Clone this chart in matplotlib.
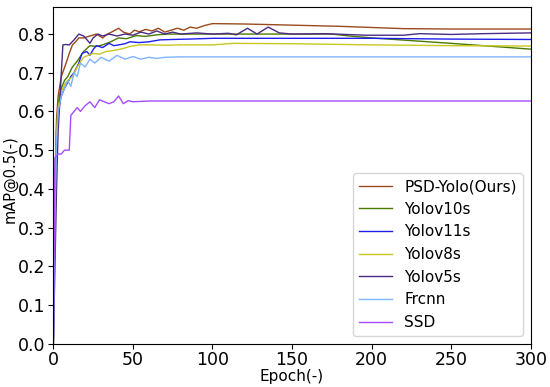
import numpy as np
import matplotlib
matplotlib.use("Agg")
import matplotlib.pyplot as plt

# values (epoch, mAP@0.5)
psd_ep = [0, 1, 2, 3, 5, 8, 10, 12, 14, 16, 19, 23, 27, 31, 34, 37, 41, 44, 48, 51, 54, 58, 62, 66, 70, 74, 78, 82, 86, 90, 95, 100, 120, 150, 180, 200, 220, 250, 300]
psd_map = [0.0, 0.42, 0.58, 0.64, 0.69, 0.725, 0.75, 0.772, 0.78, 0.79, 0.79, 0.795, 0.80, 0.79, 0.80, 0.806, 0.815, 0.805, 0.80, 0.81, 0.806, 0.812, 0.808, 0.815, 0.805, 0.81, 0.815, 0.81, 0.818, 0.815, 0.822, 0.827, 0.826, 0.823, 0.82, 0.817, 0.814, 0.813, 0.813]

v10_ep = [0, 1, 2, 3, 5, 7, 9, 12, 15, 19, 23, 27, 31, 36, 41, 46, 52, 58, 65, 72, 80, 90, 100, 130, 175, 186, 200, 250, 270, 300]
v10_map = [0.0, 0.38, 0.55, 0.62, 0.66, 0.68, 0.69, 0.715, 0.73, 0.755, 0.77, 0.768, 0.772, 0.78, 0.79, 0.788, 0.796, 0.794, 0.798, 0.80, 0.80, 0.80, 0.80, 0.80, 0.80, 0.795, 0.79, 0.776, 0.77, 0.761]

v11_ep = [0, 1, 2, 3, 5, 7, 9, 11, 13, 16, 18, 21, 23, 25, 27, 31, 35, 38, 41, 45, 48, 54, 60, 67, 75, 85, 100, 150, 200, 250, 300]
v11_map = [0.0, 0.33, 0.52, 0.6, 0.64, 0.66, 0.675, 0.69, 0.70, 0.725, 0.75, 0.755, 0.745, 0.76, 0.77, 0.765, 0.776, 0.77, 0.772, 0.775, 0.78, 0.778, 0.78, 0.785, 0.786, 0.787, 0.789, 0.789, 0.789, 0.787, 0.786]

v8_ep = [0, 1, 2, 3, 5, 7, 9, 12, 15, 19, 22, 25, 29, 33, 37, 41, 45, 48, 54, 61, 70, 80, 100, 113, 150, 200, 250, 300]
v8_map = [0.0, 0.36, 0.54, 0.61, 0.65, 0.67, 0.68, 0.69, 0.715, 0.74, 0.745, 0.75, 0.748, 0.755, 0.757, 0.76, 0.764, 0.768, 0.772, 0.772, 0.771, 0.772, 0.772, 0.776, 0.775, 0.772, 0.77, 0.769]

v5_ep = [0, 1, 2, 3, 4, 5, 6, 8, 10, 13, 16, 19, 21, 23, 25, 28, 31, 35, 40, 45, 50, 55, 60, 65, 70, 75, 80, 90, 100, 110, 115, 122, 128, 135, 142, 150, 170, 197, 220, 230, 250, 270, 300]
v5_map = [0.0, 0.2, 0.4, 0.55, 0.62, 0.70, 0.772, 0.773, 0.772, 0.785, 0.80, 0.795, 0.786, 0.776, 0.79, 0.80, 0.795, 0.80, 0.795, 0.80, 0.797, 0.805, 0.80, 0.808, 0.80, 0.805, 0.80, 0.803, 0.80, 0.802, 0.798, 0.815, 0.80, 0.818, 0.803, 0.80, 0.801, 0.797, 0.797, 0.801, 0.799, 0.801, 0.803]

frcnn_ep = [0, 1, 2, 3, 5, 7, 9, 11, 13, 15, 17, 20, 23, 26, 30, 35, 40, 45, 50, 55, 60, 65, 70, 80, 100, 150, 200, 300]
frcnn_map = [0.0, 0.33, 0.52, 0.6, 0.64, 0.66, 0.68, 0.665, 0.70, 0.69, 0.725, 0.715, 0.735, 0.725, 0.74, 0.73, 0.745, 0.735, 0.742, 0.735, 0.74, 0.737, 0.74, 0.741, 0.741, 0.741, 0.741, 0.741]

ssd_ep = [0, 1, 3, 5, 7, 10, 11, 13, 15, 17, 20, 23, 26, 29, 32, 35, 38, 41, 44, 47, 50, 60, 100, 200, 300]
ssd_map = [0.0, 0.48, 0.49, 0.49, 0.50, 0.50, 0.59, 0.60, 0.61, 0.60, 0.615, 0.625, 0.61, 0.63, 0.625, 0.62, 0.625, 0.64, 0.62, 0.628, 0.625, 0.627, 0.627, 0.627, 0.627]

series = [
    ("PSD-Yolo(Ours)", psd_ep, psd_map, "#9a4a1c"),
    ("Yolov10s", v10_ep, v10_map, "#4a7a00"),
    ("Yolov11s", v11_ep, v11_map, "#1f1fef"),
    ("Yolov8s", v8_ep, v8_map, "#c8c81e"),
    ("Yolov5s", v5_ep, v5_map, "#4b2a85"),
    ("Frcnn", frcnn_ep, frcnn_map, "#7fb4ff"),
    ("SSD", ssd_ep, ssd_map, "#a64dff"),
]

fig = plt.figure(figsize=(5.5, 3.87), dpi=100)
ax = fig.add_axes([0.097, 0.112, 0.868, 0.87])

for name, ep, vals, c in series:
    ax.plot(ep, vals, color=c, linewidth=1.0, label=name)

ax.set_xlim(0, 300)
ax.set_ylim(0, 0.87)
ax.set_xticks([0, 50, 100, 150, 200, 250, 300])
ax.set_yticks(np.arange(0, 0.81, 0.1))
ax.tick_params(labelsize=12.5, pad=2)
ax.set_xlabel("Epoch(-)", fontsize=11)
ax.set_ylabel("mAP@0.5(-)", fontsize=10.5)
ax.xaxis.set_label_coords(0.5, -0.075)
ax.yaxis.set_label_coords(-0.075, 0.49)
ax.legend(loc="lower right", fontsize=11, labelspacing=0.5, handlelength=2.2,
          borderaxespad=0.5)

fig.savefig("out.png", dpi=100)
